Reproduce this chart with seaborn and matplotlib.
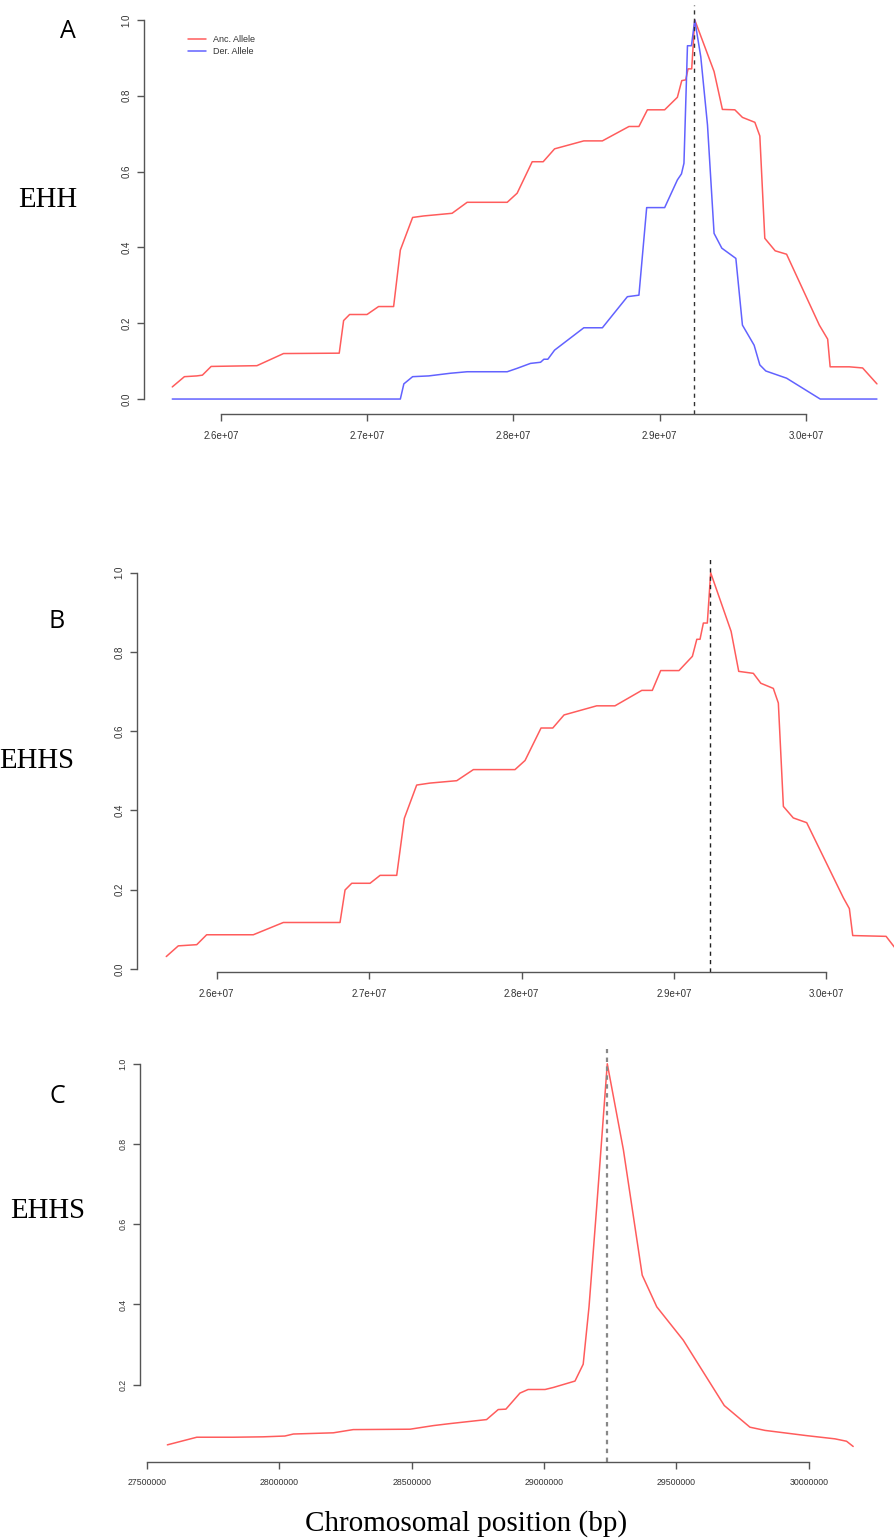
import matplotlib
matplotlib.use("Agg")
import matplotlib.pyplot as plt
from matplotlib.lines import Line2D
import seaborn as sns
import pandas as pd

# ---------------- data (positions in Mb, converted to bp below) ----------------
pos_a_anc = [25.666, 25.749, 25.834, 25.872, 25.932, 26.084, 26.245, 26.427, 26.808, 26.838,
             26.879, 26.998, 27.077, 27.180, 27.226, 27.310, 27.386, 27.580, 27.683, 27.957,
             28.025, 28.128, 28.203, 28.281, 28.481, 28.608, 28.790, 28.858, 28.916, 29.034,
             29.121, 29.151, 29.178, 29.194, 29.219, 29.240, 29.372, 29.429, 29.514, 29.566,
             29.651, 29.685, 29.719, 29.790, 29.868, 30.092, 30.149, 30.166, 30.297, 30.388,
             30.486]
ehh_anc = [0.032, 0.059, 0.061, 0.063, 0.086, 0.087, 0.088, 0.120, 0.121, 0.207,
           0.223, 0.223, 0.244, 0.244, 0.393, 0.479, 0.483, 0.490, 0.519, 0.519,
           0.543, 0.626, 0.626, 0.660, 0.681, 0.681, 0.719, 0.719, 0.763, 0.763,
           0.796, 0.840, 0.842, 0.871, 0.871, 1.000, 0.864, 0.764, 0.763, 0.743,
           0.730, 0.694, 0.424, 0.391, 0.382, 0.195, 0.158, 0.085, 0.085, 0.082,
           0.040]

pos_a_der = [25.666, 27.226, 27.250, 27.310, 27.420, 27.568, 27.683, 27.957, 28.025, 28.116,
             28.185, 28.208, 28.235, 28.281, 28.481, 28.608, 28.779, 28.858, 28.911, 29.034,
             29.121, 29.149, 29.166, 29.190, 29.217, 29.240, 29.281, 29.327, 29.372, 29.425,
             29.521, 29.566, 29.646, 29.685, 29.726, 29.868, 30.098, 30.486]
ehh_der = [0.000, 0.000, 0.040, 0.059, 0.061, 0.068, 0.072, 0.072, 0.081, 0.094,
           0.097, 0.105, 0.105, 0.129, 0.188, 0.188, 0.270, 0.274, 0.505, 0.505,
           0.578, 0.594, 0.622, 0.932, 0.932, 1.000, 0.903, 0.723, 0.437, 0.398,
           0.371, 0.195, 0.142, 0.090, 0.074, 0.055, 0.000, 0.000]

pos_b = [25.669, 25.748, 25.869, 25.934, 26.240, 26.437, 26.809, 26.842, 26.886, 27.006,
         27.072, 27.181, 27.231, 27.312, 27.400, 27.575, 27.684, 27.957, 28.023, 28.128,
         28.205, 28.279, 28.493, 28.613, 28.789, 28.858, 28.913, 29.033, 29.121, 29.150,
         29.171, 29.193, 29.219, 29.241, 29.375, 29.425, 29.521, 29.570, 29.652, 29.685,
         29.718, 29.783, 29.871, 30.112, 30.151, 30.173, 30.392, 30.486]
ehhs_b = [0.031, 0.058, 0.061, 0.086, 0.086, 0.117, 0.117, 0.199, 0.216, 0.216,
          0.236, 0.236, 0.380, 0.464, 0.469, 0.475, 0.503, 0.503, 0.526, 0.608,
          0.608, 0.641, 0.664, 0.664, 0.703, 0.703, 0.753, 0.753, 0.789, 0.832,
          0.832, 0.873, 0.873, 1.000, 0.852, 0.751, 0.746, 0.721, 0.708, 0.671,
          0.410, 0.381, 0.369, 0.179, 0.152, 0.084, 0.082, 0.035]

pos_c = [27.577, 27.688, 27.826, 27.939, 28.021, 28.053, 28.204, 28.279, 28.494, 28.582,
         28.645, 28.783, 28.827, 28.856, 28.909, 28.940, 29.004, 29.035, 29.117, 29.148,
         29.170, 29.199, 29.239, 29.300, 29.371, 29.426, 29.526, 29.681, 29.778, 29.835,
         29.992, 30.099, 30.143, 30.168]
ehhs_c = [0.050, 0.069, 0.069, 0.070, 0.072, 0.077, 0.080, 0.088, 0.089, 0.098,
          0.103, 0.113, 0.138, 0.139, 0.179, 0.188, 0.188, 0.193, 0.209, 0.251,
          0.394, 0.643, 1.000, 0.785, 0.473, 0.394, 0.311, 0.148, 0.094, 0.086,
          0.073, 0.065, 0.059, 0.046]

core_position = 29.238  # Mb
legend_labels = ["Anc. Allele", "Der. Allele"]
xticks_ab = [26.0, 27.0, 28.0, 29.0, 30.0]
xticklabels_ab = ["2.6e+07", "2.7e+07", "2.8e+07", "2.9e+07", "3.0e+07"]
xticks_c = [27.5, 28.0, 28.5, 29.0, 29.5, 30.0]
xticklabels_c = ["27500000", "28000000", "28500000", "29000000", "29500000", "30000000"]
yticks_ab = [0.0, 0.2, 0.4, 0.6, 0.8, 1.0]
yticklabels_ab = ["0.0", "0.2", "0.4", "0.6", "0.8", "1.0"]
yticks_c = [0.2, 0.4, 0.6, 0.8, 1.0]
yticklabels_c = ["0.2", "0.4", "0.6", "0.8", "1.0"]

MB = 1e6
RED = "#ff5c5c"
BLUE = "#6262ff"
AXC = "#555555"
TXC = "#333333"

sns.set_theme(style="white")
plt.rcParams["font.family"] = ["Liberation Sans", "DejaVu Sans"]

W, H = 894, 1540
fig = plt.figure(figsize=(W / 100, H / 100), dpi=100)
fig.patch.set_facecolor("white")


def px_axes(x0, y0, x1, y1):
    ax = fig.add_axes([x0 / W, 1 - y1 / H, (x1 - x0) / W, (y1 - y0) / H])
    ax.patch.set_alpha(0)
    return ax


def style(ax, xt, xtl, yt, ytl, xb, yb, fs):
    for s in ["top", "right"]:
        ax.spines[s].set_visible(False)
    for s in ["left", "bottom"]:
        ax.spines[s].set_color(AXC)
        ax.spines[s].set_linewidth(1.0)
    ax.spines["left"].set_bounds(*yb)
    ax.spines["bottom"].set_bounds(*xb)
    ax.set_xticks([v * MB for v in xt])
    ax.set_xticklabels(xtl, fontsize=fs, color=TXC)
    ax.set_yticks(yt)
    ax.set_yticklabels(ytl, fontsize=fs, color=TXC, rotation=90, va="center")
    ax.tick_params(axis="both", direction="out", length=5, width=1.0, color=AXC,
                   bottom=True, left=True)
    ax.tick_params(axis="x", pad=7)
    ax.tick_params(axis="y", pad=4)
    ax.set_xlabel("")
    ax.set_ylabel("")
    ax.grid(False)


# ---------------- Panel A ----------------
axA = px_axes(144, 4.8, 905, 414.2)
dfA1 = pd.DataFrame({"pos": [p * MB for p in pos_a_anc], "ehh": ehh_anc})
dfA2 = pd.DataFrame({"pos": [p * MB for p in pos_a_der], "ehh": ehh_der})
sns.lineplot(data=dfA1, x="pos", y="ehh", ax=axA, color=RED, lw=1.1, estimator=None, sort=False)
sns.lineplot(data=dfA2, x="pos", y="ehh", ax=axA, color=BLUE, lw=1.1, estimator=None, sort=False)
axA.axvline(core_position * MB, color="#333333", lw=1.0, ls=(0, (3, 3)))
axA.set_xlim(25.4726 * MB, 30.678 * MB)
axA.set_ylim(-0.04, 1.04)
style(axA, xticks_ab, xticklabels_ab, yticks_ab, yticklabels_ab, (26.0 * MB, 30.0 * MB), (0.0, 1.0), 7)
handles = [Line2D([], [], color=RED, lw=1.1), Line2D([], [], color=BLUE, lw=1.1)]
fig.legend(handles, legend_labels, loc="center left", bbox_to_anchor=(188 / W, 1 - 45.5 / H),
           bbox_transform=fig.transFigure, frameon=False, fontsize=6.5, handlelength=2.0,
           handletextpad=0.8, labelspacing=0.35, borderpad=0, borderaxespad=0,
           labelcolor=TXC)

# ---------------- Panel B ----------------
axB = px_axes(137, 557.3, 930, 972)
dfB = pd.DataFrame({"pos": [p * MB for p in pos_b], "ehhs": ehhs_b})
sns.lineplot(data=dfB, x="pos", y="ehhs", ax=axB, color=RED, lw=1.1, estimator=None, sort=False)
axB.axvline(core_position * MB, color="#222222", lw=1.0, ls=(0, (3, 3)))
axB.set_xlim(25.477 * MB, 30.680 * MB)
axB.set_ylim(-0.008, 1.039)
style(axB, xticks_ab, xticklabels_ab, yticks_ab, yticklabels_ab, (26.0 * MB, 30.0 * MB), (0.0, 1.0), 7)

# ---------------- Panel C ----------------
axC = px_axes(140, 1048.5, 880.7, 1461.7)
dfC = pd.DataFrame({"pos": [p * MB for p in pos_c], "ehhs": ehhs_c})
sns.lineplot(data=dfC, x="pos", y="ehhs", ax=axC, color=RED, lw=1.1, estimator=None, sort=False)
axC.axvline(core_position * MB, color="#888888", lw=1.6, ls=(0, (2, 2)))
axC.set_xlim(27.4736 * MB, 30.272 * MB)
axC.set_ylim(0.008, 1.038)
style(axC, xticks_c, xticklabels_c, yticks_c, yticklabels_c, (27.5 * MB, 30.0 * MB), (0.2, 1.0), 6.3)


# ---------------- panel letters / labels ----------------
def ftext(x, y, s, **kw):
    fig.text(x / W, 1 - y / H, s, **kw)


letter_kw = dict(fontsize=18, family=["Open Sans", "DejaVu Sans"], ha="center", va="baseline", color="black")
serif_kw = dict(fontsize=20.7, family=["Liberation Serif", "DejaVu Serif"], ha="center", va="baseline", color="black")
ftext(68, 38, "A", **letter_kw)
ftext(57, 628, "B", **letter_kw)
ftext(57.5, 1103, "C", **letter_kw)
ftext(47.5, 207, "EHH", **serif_kw)
ftext(37, 768, "EHHS", **serif_kw)
ftext(47.5, 1218, "EHHS", **serif_kw)
ftext(466, 1531, "Chromosomal position (bp)", fontsize=21, family=["Liberation Serif", "DejaVu Serif"],
      ha="center", va="baseline", color="black")

fig.savefig("out.png", dpi=100, facecolor="white")
